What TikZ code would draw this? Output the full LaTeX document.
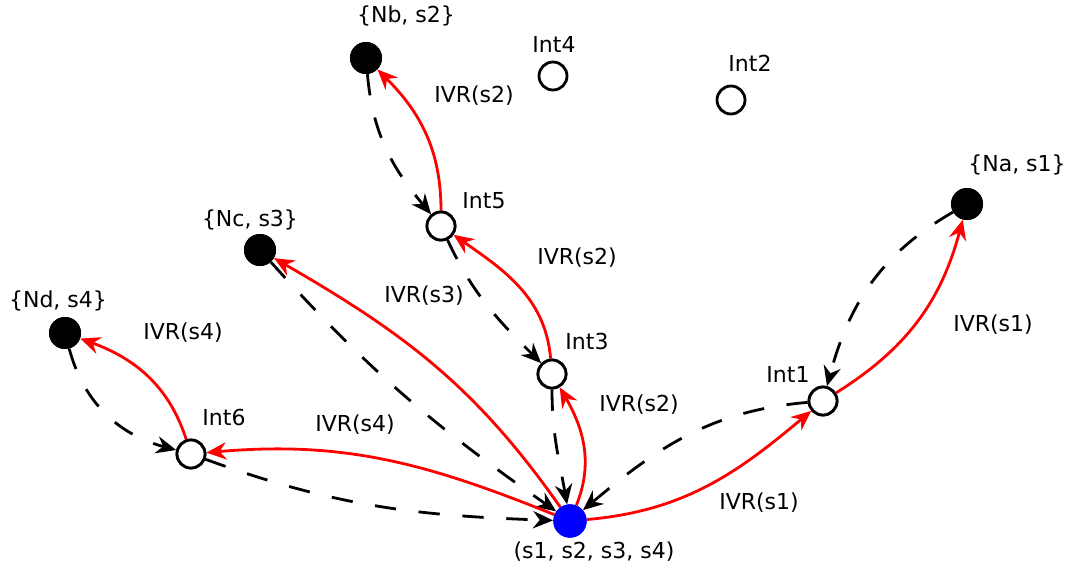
\documentclass[tikz,border=0pt]{standalone}
\usepackage{fontspec}
\setmainfont{DejaVu Sans}
\usetikzlibrary{arrows.meta}
\begin{document}
\begin{tikzpicture}[x=0.75pt,y=-0.75pt,
  font=\fontsize{16.5}{19}\selectfont,
  blk/.style={circle,fill=black,draw=none,minimum size=24pt,inner sep=0pt},
  intn/.style={circle,fill=white,draw=black,line width=2.1pt,minimum size=21pt,inner sep=0pt},
  ctr/.style={circle,fill=blue,draw=none,minimum size=25pt,inner sep=0pt},
  lbl/.style={inner sep=0pt},
  ivr/.style={red,line width=2.1pt,-{Stealth[length=15pt,width=13pt,inset=5pt]}},
  hop/.style={black,line width=2.1pt,dash pattern=on 16pt off 17pt,-{Stealth[length=15pt,width=13pt,inset=5pt]}}]
\useasboundingbox (0,0) rectangle (1069,572);
% nodes
\node[blk] (nb) at (366,58) {};
\node[intn] (i4) at (553,76) {};
\node[intn] (i2) at (731,100) {};
\node[blk] (na) at (967,204) {};
\node[blk] (nc) at (260,250) {};
\node[intn] (i5) at (441,226) {};
\node[blk] (nd) at (65,333) {};
\node[intn] (i3) at (552,374) {};
\node[intn] (i1) at (823,401) {};
\node[intn] (i6) at (191,454) {};
\node[ctr] (c) at (570,521) {};
% dashed paths
\draw[hop] (nb) to[out=-85,in=130] (i5);
\draw[hop] (i5) to[out=-65,in=135] (i3);
\draw[hop] (nc) to[out=-48,in=145] (c);
\draw[hop] (nd) to[out=-75,in=165] (i6);
\draw[hop] (i6) to[out=-20,in=178] (c);
\draw[hop] (i3) to[out=-90,in=100] (c);
\draw[hop] (i1) to[out=-175,in=40] (c);
\draw[hop] (na) to[out=-150,in=75] (i1);
% red paths
\draw[ivr] (i5) to[out=90,in=-45] (nb);
\draw[ivr] (i3) to[out=95,in=-35] (i5);
\draw[ivr] (c) to[out=125,in=-30] (nc);
\draw[ivr] (i6) to[out=108,in=-20] (nd);
\draw[ivr] (c) to[out=158,in=5] (i6);
\draw[ivr] (c) to[out=68,in=-60] (i3);
\draw[ivr] (c) to[out=5,in=-140] (i1);
\draw[ivr] (i1) to[out=32,in=-105] (na);
% redraw nodes on top
\node[blk] at (nb) {};
\node[blk] at (na) {};
\node[blk] at (nc) {};
\node[blk] at (nd) {};
\node[intn] at (i5) {};
\node[intn] at (i3) {};
\node[intn] at (i1) {};
\node[intn] at (i6) {};
\node[ctr] at (c) {};
% labels
\node[lbl] (tnb) at (406,16) {\{Nb, s2\}};
\node[lbl] (ti4) at (554,44) {Int4};
\node[lbl] (ti2) at (750,63) {Int2};
\node[lbl] (tna) at (1017,165) {\{Na, s1\}};
\node[lbl] (tnc) at (250,220) {\{Nc, s3\}};
\node[lbl] (ti5) at (484,201) {Int5};
\node[lbl] (tnd) at (58,301) {\{Nd, s4\}};
\node[lbl] (ti3) at (587,341) {Int3};
\node[lbl] (ti1) at (788,374) {Int1};
\node[lbl] (ti6) at (224,417) {Int6};
\node[lbl] (tc) at (594,552) {(s1, s2, s3, s4)};
\node[lbl] (l1) at (474,96) {IVR(s2)};
\node[lbl] (l2) at (577,258) {IVR(s2)};
\node[lbl] (l3) at (424,296) {IVR(s3)};
\node[lbl] (l4) at (183,333) {IVR(s4)};
\node[lbl] (l5) at (993,325) {IVR(s1)};
\node[lbl] (l6) at (639,405) {IVR(s2)};
\node[lbl] (l7) at (355,425) {IVR(s4)};
\node[lbl] (l8) at (759,503) {IVR(s1)};
\end{tikzpicture}
\end{document}
